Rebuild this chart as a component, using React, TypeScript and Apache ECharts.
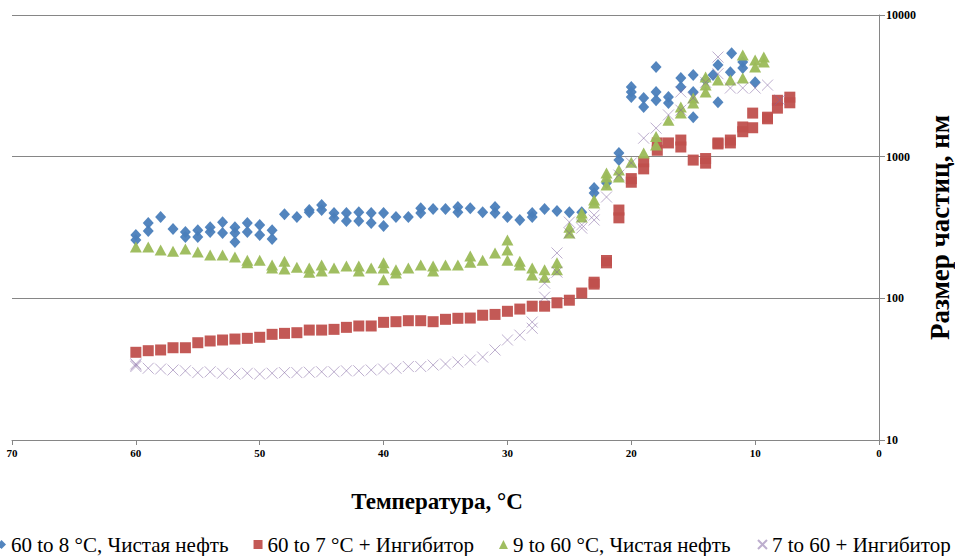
import React, { useEffect, useRef } from "react";
import * as echarts from "echarts";

// Series 1: 60 to 8 °C, pure oil (blue diamonds)
const blueTemp = [60, 60, 59, 59, 58, 57, 56, 56, 55, 55, 54, 54, 53, 53, 52, 52, 52, 51, 51, 50, 50, 49, 49, 48, 47, 46, 46, 45, 45, 44, 44, 43, 43, 42, 42, 41, 41, 40, 40, 39, 38, 37, 37, 36, 35, 34, 34, 33, 32, 31, 31, 30, 29, 28, 28, 27, 26, 25, 24, 23, 23, 22, 21, 21, 20, 20, 20, 19, 19, 18, 18, 18, 17, 17, 16, 16, 15, 15, 15, 14, 13.4, 13, 13, 12, 11.9, 11, 11, 10];
const blueSize = [280, 258, 340, 299, 375, 308, 294, 271, 303, 271, 318, 294, 345, 289, 318, 289, 250, 340, 294, 330, 280, 303, 262, 393, 375, 420, 406, 455, 420, 400, 367, 400, 351, 406, 351, 400, 340, 400, 324, 375, 375, 433, 400, 427, 427, 441, 406, 433, 406, 441, 400, 375, 357, 400, 375, 427, 413, 406, 406, 553, 600, 651, 1060, 946, 3100, 2860, 2640, 2600, 2240, 4290, 2860, 2500, 2640, 2390, 3590, 3100, 3770, 2860, 1900, 3470, 3770, 4430, 2420, 3950, 5380, 4650, 4220, 3350];

// Series 2: 60 to 7 °C + inhibitor (red squares)
const redTemp = [60, 59, 58, 57, 56, 55, 54, 53, 52, 51, 50, 49, 48, 47, 46, 45, 44, 43, 42, 41, 40, 39, 38, 37, 36, 35, 34, 33, 32, 31, 30, 29, 28, 27, 26, 25, 24, 23, 23, 22, 22, 21, 21, 20, 20, 19, 19, 17.9, 17.9, 17, 16, 16, 15, 14, 14, 13, 13, 12, 12, 11, 11, 10.2, 10.2, 9, 9, 8.2, 8.2, 7.2, 7.2];
const redSize = [41.6, 42.7, 43.2, 44.8, 44.8, 48.6, 50, 50.8, 51.6, 52.2, 53.1, 55.7, 56.6, 57.2, 59.7, 59.7, 60.4, 62.4, 63.8, 63.8, 67.7, 68.4, 69.5, 69.5, 68.4, 71.1, 72.3, 72.6, 76, 77, 81, 84, 88, 88, 93, 97, 109, 130, 126, 185, 178, 370, 420, 660, 700, 820, 920, 1110, 1250, 1250, 1310, 1170, 946, 970, 900, 1250, 1230, 1310, 1250, 1620, 1500, 2030, 1600, 1900, 1850, 2200, 2500, 2630, 2400];

// Series 3: 9 to 60 °C, pure oil (green triangles)
const greenTemp = [60, 59, 58, 57, 56, 55, 54, 53, 52, 51, 51, 50, 49, 49, 48, 48, 47, 46, 46, 45, 45, 44, 43, 42, 42, 41, 40, 40, 40, 39, 39, 38, 37, 36, 36, 35, 34, 33, 33, 32, 31, 30, 30, 30, 29, 29, 28, 28, 27, 27, 26, 26, 25, 25, 24, 24, 23, 23, 22, 22, 22, 21, 21, 20, 19, 18, 18, 17, 16, 16, 15, 15, 14, 14, 14, 13, 12, 11, 11, 10, 10, 9.3, 9.3];
const greenSize = [230, 230, 219, 215, 223, 212, 202, 202, 196, 186, 178, 186, 172, 164, 183, 161, 166, 164, 153, 172, 156, 164, 169, 169, 156, 164, 178, 164, 135, 159, 151, 164, 172, 169, 156, 172, 172, 199, 180, 186, 209, 258, 219, 186, 183, 172, 164, 146, 159, 141, 178, 159, 318, 289, 400, 375, 494, 470, 766, 718, 630, 804, 718, 915, 1060, 1207, 1390, 1810, 2240, 2030, 2600, 2390, 3650, 3200, 2860, 3470, 3470, 3590, 5210, 4290, 4810, 5050, 4650];

// Series 4: 7 to 60 + inhibitor (purple crosses)
const purpleTemp = [60, 60, 60, 59, 58, 57, 56, 55, 54, 53, 52, 51, 50, 49, 48, 47, 46, 45, 44, 43, 42, 41, 40, 39, 38, 37, 36, 35, 34, 33, 32, 31, 30, 29, 28, 28, 27, 27, 26, 26, 25, 25, 24, 24, 23, 23, 22, 21, 20, 19, 18, 17, 16, 16, 15, 14, 13, 13, 12, 11, 10, 9, 8];
const purpleSize = [33.8, 33, 34.5, 32.1, 31.7, 31.2, 30.8, 29.9, 30.3, 29.6, 29.2, 29.6, 29.2, 29.6, 29.9, 29.9, 30.1, 30.3, 30.3, 30.8, 30.8, 31.2, 31.7, 32.1, 33, 33, 33.8, 34.4, 35.5, 36.7, 38.5, 43.2, 50.8, 55, 68, 61.5, 102, 128, 153, 209, 345, 289, 330, 313, 387, 357, 519, 741, 902, 1350, 1590, 1970, 2860, 2130, 2600, 3350, 5050, 3850, 3050, 3050, 3050, 3200, 2510];

const seriesNames = [
  "60 to 8 °C, Чистая нефть",
  "60 to 7 °C + Ингибитор",
  "9 to 60 °C, Чистая нефть",
  "7 to 60 + Ингибитор",
];

const xTitle = "Температура, °C";
const yTitle = "Размер частиц, нм";

const pair = (xs: number[], ys: number[]) => xs.map((x, i) => [x, ys[i]]);

const FONT = '"Liberation Serif", "Times New Roman", serif';

export default function App() {
  const ref = useRef<HTMLDivElement>(null);
  useEffect(() => {
    if (!ref.current) return;
    const chart = echarts.init(ref.current, null, { renderer: "svg" });
    const axisColor = "#868686";
    chart.setOption({
      animation: false,
      backgroundColor: "#ffffff",
      grid: { left: 12, right: 76, top: 15, bottom: 116, containLabel: false, outerBoundsMode: "none" },
      xAxis: {
        type: "value",
        min: 0,
        max: 70,
        interval: 10,
        inverse: true,
        axisLine: { show: true, lineStyle: { color: axisColor, width: 1 } },
        axisTick: { show: true, length: 5, lineStyle: { color: axisColor } },
        splitLine: { show: false },
        axisLabel: { color: "#000", fontFamily: FONT, fontWeight: "bold", fontSize: 11, margin: 7 },
        name: xTitle,
        nameLocation: "middle",
        nameGap: 50,
        nameTextStyle: { color: "#000", fontFamily: FONT, fontWeight: "bold", fontSize: 23, padding: [0, 17, 0, 0] },
      },
      yAxis: {
        type: "log",
        logBase: 10,
        min: 10,
        max: 10000,
        position: "right",
        axisLine: { show: true, lineStyle: { color: axisColor, width: 1 } },
        axisTick: { show: true, length: 6, lineStyle: { color: axisColor } },
        minorTick: { show: false },
        splitLine: { show: true, lineStyle: { color: axisColor, width: 1 } },
        axisLabel: {
          color: "#000",
          fontFamily: FONT,
          fontWeight: "bold",
          fontSize: 12,
          margin: 7,
          formatter: (v: number) => String(Math.round(v)),
        },
        name: yTitle,
        nameLocation: "middle",
        nameRotate: 90,
        nameGap: 45,
        nameTextStyle: { color: "#000", fontFamily: FONT, fontWeight: "bold", fontSize: 27 },
      },
      legend: {
        left: -8,
        top: 529,
        width: 1100,
        itemWidth: 9,
        itemHeight: 9,
        itemGap: 25,
        textStyle: { color: "#000", fontFamily: FONT, fontSize: 21 },
        data: seriesNames,
      },
      series: [
        {
          name: seriesNames[0],
          type: "scatter",
          symbol: "diamond",
          symbolSize: [11, 12],
          itemStyle: { color: "#4A7EBB", opacity: 0.95 },
          data: pair(blueTemp, blueSize),
          z: 3,
        },
        {
          name: seriesNames[1],
          type: "scatter",
          symbol: "rect",
          symbolSize: 11,
          itemStyle: { color: "#C0504D", opacity: 0.95 },
          data: pair(redTemp, redSize),
          z: 2,
        },
        {
          name: seriesNames[2],
          type: "scatter",
          symbol: "triangle",
          symbolSize: [12, 11],
          itemStyle: { color: "#9BBB59", opacity: 0.95 },
          data: pair(greenTemp, greenSize),
          z: 4,
        },
        {
          name: seriesNames[3],
          type: "scatter",
          symbol: "path://M0,0L10,10M10,0L0,10",
          symbolSize: 11,
          itemStyle: { color: "none", borderColor: "rgba(128,100,162,0.65)", borderWidth: 1 },
          data: pair(purpleTemp, purpleSize),
          z: 5,
        },
      ],
    });
    return () => chart.dispose();
  }, []);
  return <div ref={ref} style={{ width: 955, height: 556, position: "absolute", left: 0, top: 0 }} />;
}
